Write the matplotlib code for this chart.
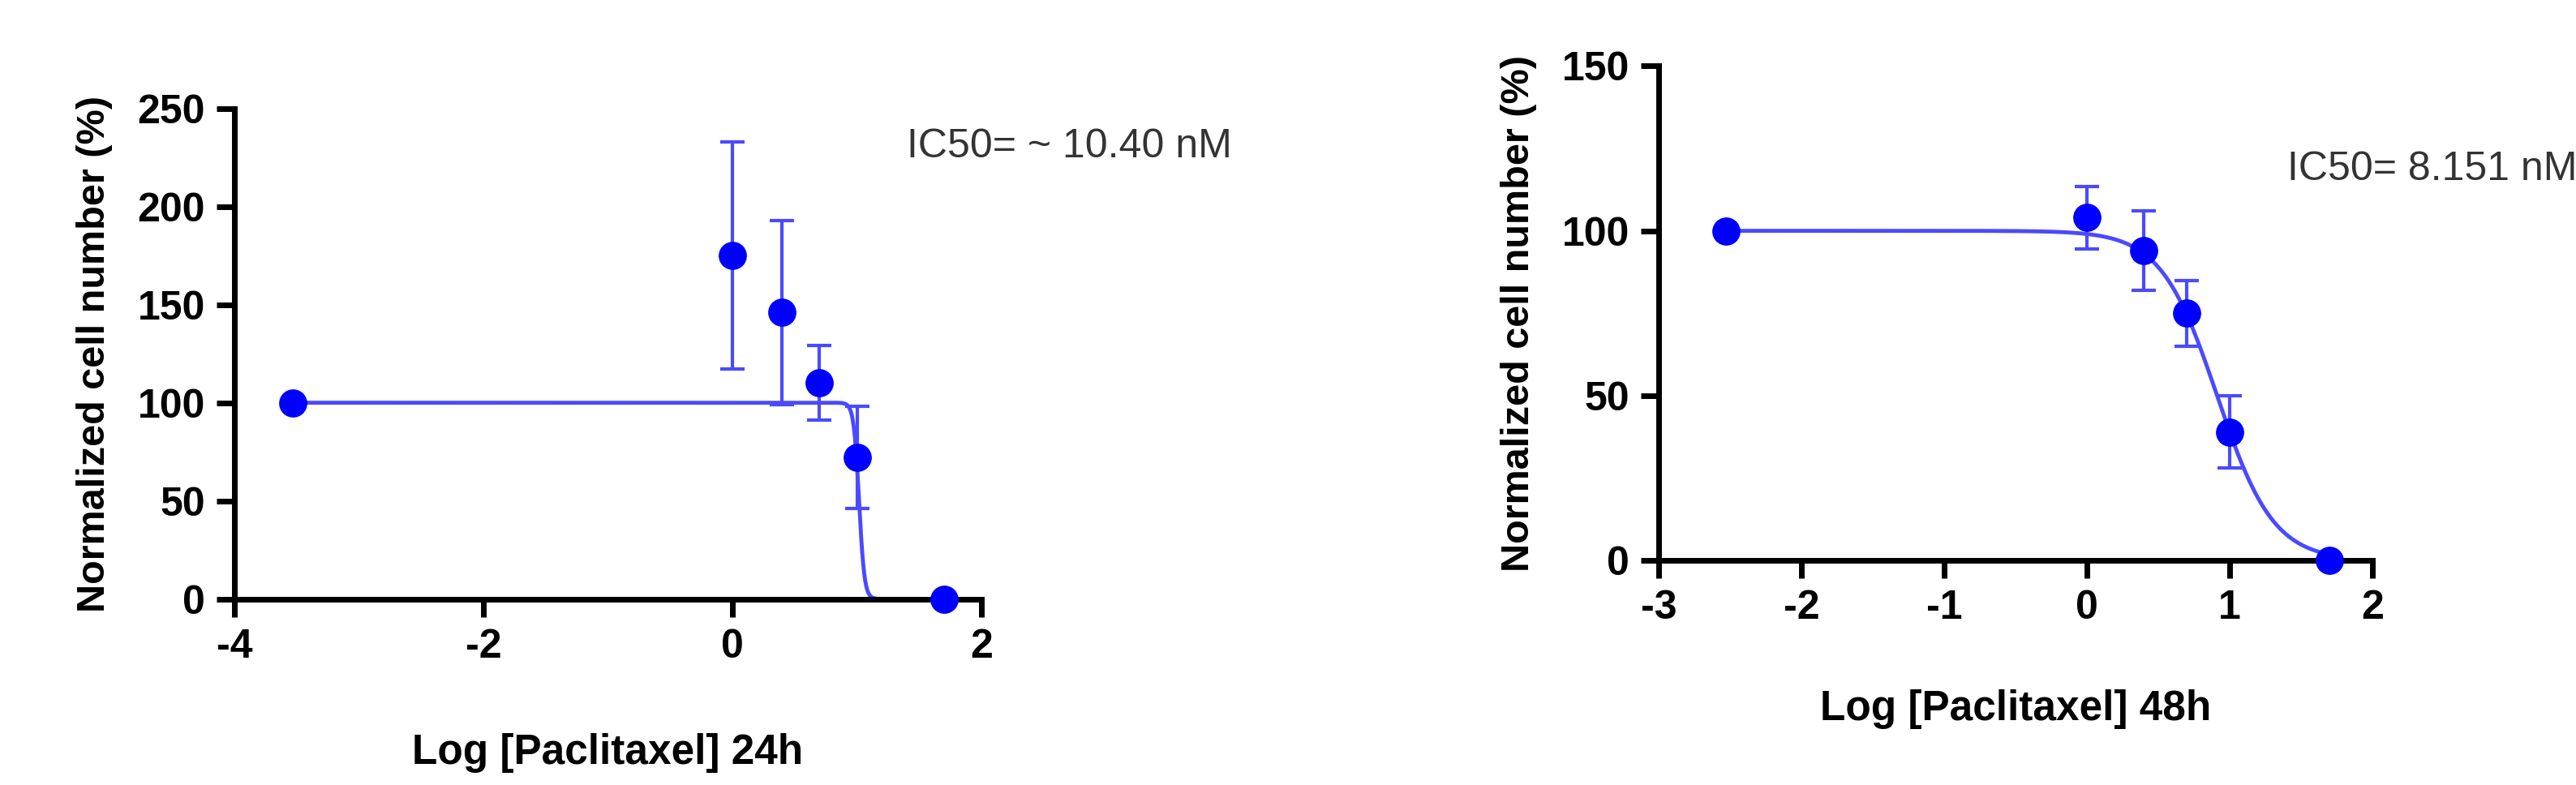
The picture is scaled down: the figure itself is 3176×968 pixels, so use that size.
import numpy as np
import matplotlib
matplotlib.use("Agg")
import matplotlib.pyplot as plt

plt.rcParams['font.family'] = ['Liberation Sans', 'DejaVu Sans']

x24 = [-3.53, 0.0, 0.398, 0.699, 1.0, 1.699]
y24 = [100, 175, 146, 110, 72, 0]
e24 = [0, 58, 47, 19, 26, 0]
logic50_24 = 1.017
hill_24 = 20.0

x48 = [-2.53, 0.0, 0.398, 0.699, 1.0, 1.699]
y48 = [100, 104, 94, 75, 39, 0]
e48 = [0, 9.5, 12, 10, 11, 0]
logic50_48 = 0.911
hill_48 = 2.2

fig = plt.figure(figsize=(31.76, 9.68), dpi=100)
ax1 = fig.add_axes([0.091, 0.237, 0.290, 0.625])
ax2 = fig.add_axes([0.644, 0.286, 0.277, 0.630])

def panel(ax, x, y, e, lic, h, xlim, xticks, ylim, yticks, xlabel, txt, txtpos, lp):
    xx = np.linspace(x[0], x[-1], 2000)
    yy = 100 / (1 + 10 ** ((xx - lic) * h))
    ax.plot(xx, yy, color='#4a4aff', lw=3.5, zorder=2)
    ax.errorbar(x, y, yerr=e, fmt='o', color='#0000ff', ms=24, ecolor='#4a4aff',
                elinewidth=3, capsize=11, capthick=3, zorder=3, clip_on=False)
    ax.set_xlim(*xlim)
    ax.set_ylim(*ylim)
    ax.set_xticks(xticks)
    ax.set_xticklabels([str(t) for t in xticks])
    ax.set_yticks(yticks)
    for s in ['top', 'right']:
        ax.spines[s].set_visible(False)
    for s in ['left', 'bottom']:
        ax.spines[s].set_linewidth(5)
    ax.tick_params(width=5, length=16, labelsize=36, pad=10)
    for lab in ax.get_xticklabels() + ax.get_yticklabels():
        lab.set_fontweight('bold')
    ax.set_xlabel(xlabel, fontsize=37, fontweight='bold', labelpad=lp)
    ax.set_ylabel('Normalized cell number (%)', fontsize=35, fontweight='bold', labelpad=22)
    ax.text(txtpos[0], txtpos[1], txt, transform=ax.transAxes, fontsize=36, color='#333333')

panel(ax1, x24, y24, e24, logic50_24, hill_24, (-4, 2), [-4, -2, 0, 2], (0, 250),
      [0, 50, 100, 150, 200, 250], 'Log [Paclitaxel] 24h', 'IC50= ~ 10.40 nM', (0.9, 0.9), 60)
panel(ax2, x48, y48, e48, logic50_48, hill_48, (-3, 2), [-3, -2, -1, 0, 1, 2], (0, 150),
      [0, 50, 100, 150], 'Log [Paclitaxel] 48h', 'IC50= 8.151 nM', (0.88, 0.77), 55)

fig.savefig('out.png', dpi=100)
